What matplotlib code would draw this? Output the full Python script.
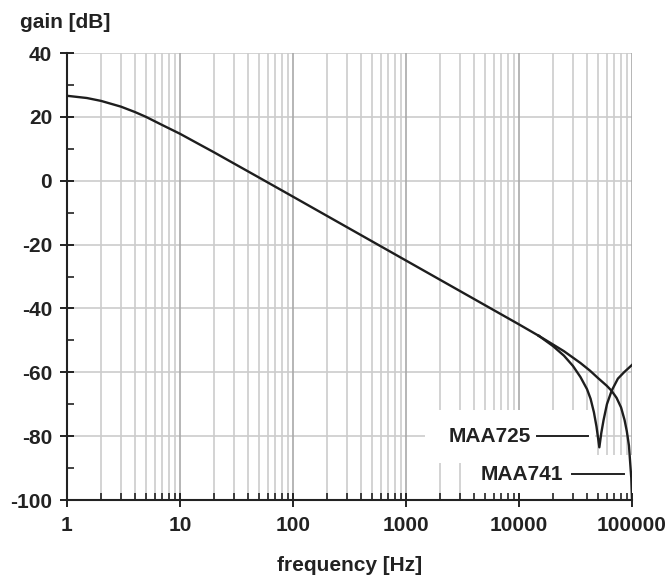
import matplotlib
matplotlib.use("Agg")
import matplotlib.pyplot as plt
from matplotlib.patches import Rectangle
from matplotlib.ticker import FixedLocator, NullFormatter

plt.rcParams['font.family'] = ['Liberation Sans', 'DejaVu Sans']

# ---- data ----
freq_common = [1, 1.5, 2, 3, 4, 5, 7, 10, 15, 20, 30, 50, 100, 1000, 10000, 15000]
gain_common = [26.6, 25.9, 25.0, 23.2, 21.5, 20.0, 17.4, 14.7, 11.3, 8.9, 5.4, 1.0, -5.0, -25.0, -45.0, -48.6]

freq_725 = [15000, 20000, 25000, 30000, 35000, 40000, 43000, 46000, 48500, 51400,
            53500, 56000, 60000, 66000, 75000, 85000, 100000]
gain_725 = [-48.6, -51.8, -54.8, -58.0, -61.5, -65.3, -68.3, -72.5, -77.0, -83.5,
            -79.0, -75.0, -70.0, -65.8, -62.0, -60.0, -57.7]

freq_741 = [15000, 20000, 25000, 30000, 35000, 42500, 50000, 59700, 66000, 73000,
            80000, 86000, 90000, 94000, 96000, 98500, 100000]
gain_741 = [-48.6, -51.3, -53.4, -55.4, -57.1, -59.5, -61.8, -64.2, -65.8, -68.0,
            -71.0, -75.0, -78.5, -83.0, -87.5, -93.0, -100.0]

labels = ["MAA725", "MAA741"]
y_ticks = [40, 20, 0, -20, -40, -60, -80, -100]
x_ticks = [1, 10, 100, 1000, 10000, 100000]
x_ticklabels = ["1", "10", "100", "1000", "10000", "100000"]

W, H = 672, 578
FS = 15
fig = plt.figure(figsize=(W / 100, H / 100), dpi=100)
ax = fig.add_axes([67 / W, 1 - 500 / H, (632 - 67) / W, (500 - 53) / H])

ax.set_xscale('log')
ax.set_xlim(1, 100000)
ax.set_ylim(-100, 40)

# grid
minor_x = [m * 10 ** d for d in range(5) for m in range(2, 10)]
for xv in minor_x:
    ax.axvline(xv, color='#cccccc', lw=1.2, zorder=0.5)
for xv in x_ticks[1:]:
    ax.axvline(xv, color='#a9a9a9', lw=1.2, zorder=0.6)
for yv in y_ticks[:-1]:
    ax.axhline(yv, color='#cccccc', lw=1.2, zorder=0.5)

# white boxes behind the labels
ax.add_patch(Rectangle((1470, -88.4), 47100 - 1470, -71.8 + 88.4,
                       facecolor='white', edgecolor='none', zorder=1))
ax.add_patch(Rectangle((3680, -100), 99000 - 3680, -86 + 100,
                       facecolor='white', edgecolor='none', zorder=1))

# curves
for fx, gy in [(freq_common, gain_common), (freq_725, gain_725), (freq_741, gain_741)]:
    ax.plot(fx, gy, color='#1e1e1e', lw=1.7, zorder=3, solid_joinstyle='round')

# labels with leader lines
ax.text(12800, -80, labels[0], ha='right', va='center', fontsize=FS, fontweight='bold',
        color='#222222', zorder=4)
ax.plot([14350, 41000], [-80, -80], color='#222222', lw=1.4, zorder=4)
ax.text(24500, -92, labels[1], ha='right', va='center', fontsize=FS, fontweight='bold',
        color='#222222', zorder=4)
ax.plot([29260, 85000], [-92, -92], color='#222222', lw=1.4, zorder=4)

# spines
for s in ['top', 'right']:
    ax.spines[s].set_visible(False)
for s in ['left', 'bottom']:
    ax.spines[s].set_color('#222222')
    ax.spines[s].set_linewidth(1.5)

ax.set_yticks(y_ticks)
ax.set_yticklabels([str(v) for v in y_ticks])
ax.yaxis.set_minor_locator(FixedLocator([30, 10, -10, -30, -50, -70, -90]))
ax.xaxis.set_major_locator(FixedLocator(x_ticks))
ax.set_xticklabels(x_ticklabels)
ax.xaxis.set_minor_locator(FixedLocator(minor_x))
ax.xaxis.set_minor_formatter(NullFormatter())

ax.tick_params(axis='both', which='major', direction='inout', length=9.5, width=1.4,
               color='#222222', labelsize=FS, labelcolor='#222222')
ax.tick_params(axis='both', which='minor', direction='in', length=5, width=1.2,
               color='#222222')
ax.tick_params(axis='y', which='major', pad=6)
ax.tick_params(axis='x', which='major', pad=7)
for lab in ax.get_xticklabels() + ax.get_yticklabels():
    lab.set_fontweight('bold')

fig.text(20 / W, 1 - 28 / H, "gain [dB]", ha='left', va='baseline', fontsize=FS,
         fontweight='bold', color='#222222')
fig.text(349.5 / W, 1 - 571 / H, "frequency [Hz]", ha='center', va='baseline',
         fontsize=FS, fontweight='bold', color='#222222')

fig.savefig("out.png", dpi=100, facecolor='white')
